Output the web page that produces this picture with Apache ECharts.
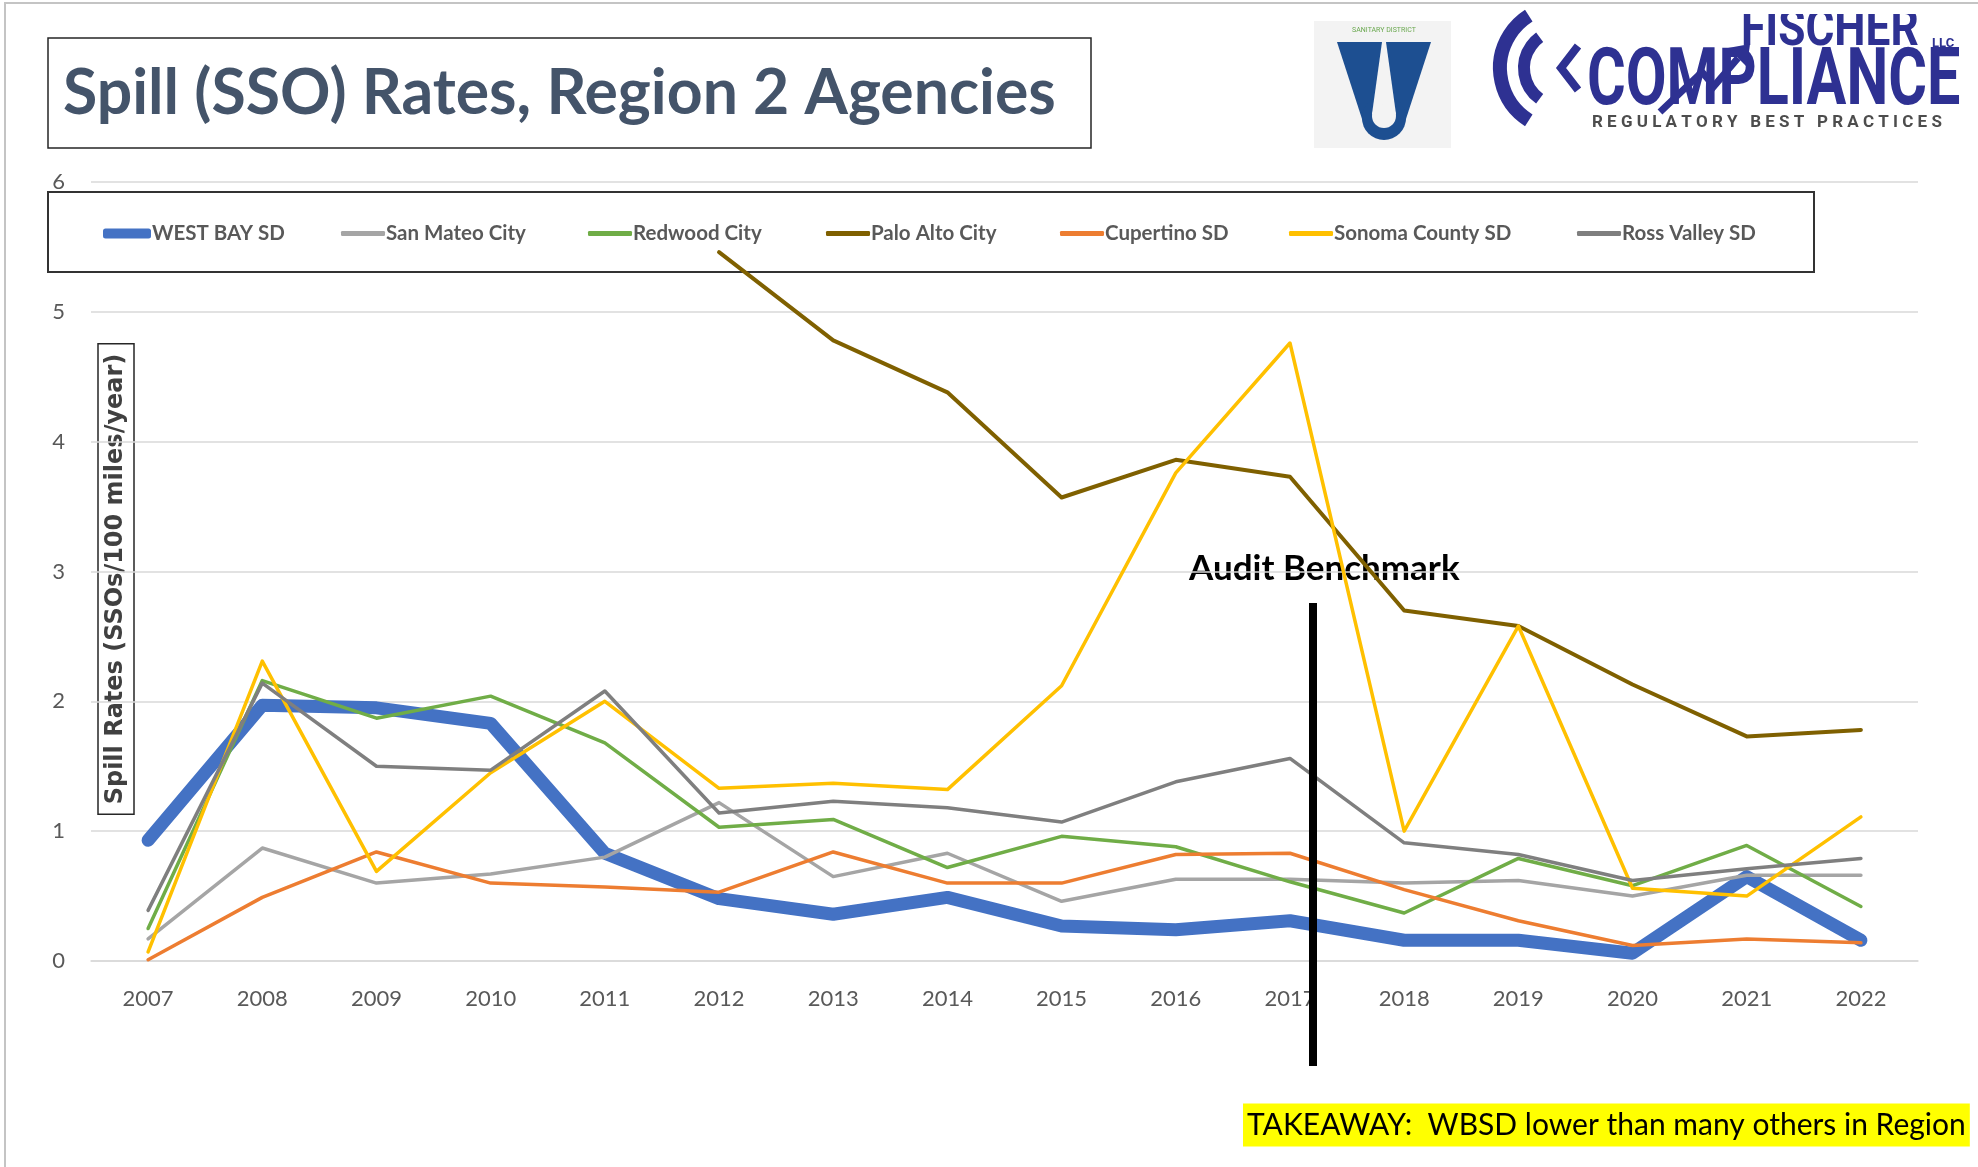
<!DOCTYPE html>
<html>
<head>
<meta charset="utf-8">
<script src="https://cdn.jsdelivr.net/npm/echarts@6/dist/echarts.min.js"></script>
<style>
  html, body { margin: 0; padding: 0; background: #fff; }
  #chart { width: 1978px; height: 1167px; }
</style>
</head>
<body>
<div id="chart"></div>
<script>
// spill rates, SSOs per 100 miles per year
const years = ['2007', '2008', '2009', '2010', '2011', '2012', '2013', '2014',
  '2015', '2016', '2017', '2018', '2019', '2020', '2021', '2022']
const yTicks = [0, 1, 2, 3, 4, 5, 6]

const westBay = [0.93, 1.97, 1.95, 1.83, 0.83, 0.48, 0.36, 0.49, 0.27, 0.24, 0.31, 0.16, 0.16, 0.06, 0.65, 0.16]
const sanMateo = [0.17, 0.87, 0.60, 0.67, 0.80, 1.22, 0.65, 0.83, 0.46, 0.63, 0.63, 0.60, 0.62, 0.50, 0.66, 0.66]
const redwood = [0.25, 2.16, 1.87, 2.04, 1.68, 1.03, 1.09, 0.72, 0.96, 0.88, 0.61, 0.37, 0.79, 0.58, 0.89, 0.42]
const paloAlto = [null, null, null, null, null, 5.46, 4.78, 4.38, 3.57, 3.86, 3.73, 2.70, 2.58, 2.13, 1.73, 1.78]
const cupertino = [0.01, 0.49, 0.84, 0.60, 0.57, 0.53, 0.84, 0.60, 0.60, 0.82, 0.83, 0.55, 0.31, 0.12, 0.17, 0.14]
const sonoma = [0.07, 2.31, 0.69, 1.45, 2.00, 1.33, 1.37, 1.32, 2.12, 3.76, 4.76, 1.00, 2.58, 0.56, 0.50, 1.11]
const rossValley = [0.39, 2.14, 1.50, 1.47, 2.08, 1.14, 1.23, 1.18, 1.07, 1.38, 1.56, 0.91, 0.82, 0.62, 0.71, 0.79]

const names = ['WEST BAY SD', 'San Mateo City', 'Redwood City', 'Palo Alto City', 'Cupertino SD', 'Sonoma County SD', 'Ross Valley SD']
const values = [westBay, sanMateo, redwood, paloAlto, cupertino, sonoma, rossValley]
const colors = ['#4472C4', '#A5A5A5', '#70AD47', '#7F6000', '#ED7D31', '#FFC000', '#7F7F7F']
const widths = [13, 3.5, 3.5, 4, 3.5, 3.5, 3.5]
const legendLeft = [103, 341, 588, 826, 1060, 1289, 1577]

const calibri = 'Lato, "Open Sans", sans-serif'
const navy = '#2E3192'

const chart = echarts.init(document.getElementById('chart'))

const series = names.map((n, i) => ({
  name: n,
  type: 'line',
  data: values[i],
  color: colors[i],
  showSymbol: false,
  symbol: 'none',
  lineStyle: { width: widths[i], color: colors[i], cap: 'round', join: 'round' },
  itemStyle: { color: colors[i] }
}))

const legends = names.map((n, i) => ({
  data: [n],
  left: legendLeft[i],
  top: 223,
  padding: 0,
  icon: 'roundRect',
  itemWidth: i === 0 ? 48 : 44,
  itemHeight: i === 0 ? 10 : 5,
  itemStyle: { borderWidth: 0 },
  textStyle: { color: '#595959', fontSize: 20.5, fontWeight: 'bold', fontFamily: calibri, padding: [0, 0, 0, -4] }
}))

const graphics = [
  // slide frame
  { type: 'rect', z: 100, shape: { x: 5, y: 3, width: 2100, height: 2100 }, style: { fill: 'none', stroke: '#C4C4C4', lineWidth: 2 } },
  // title
  { type: 'rect', shape: { x: 48, y: 38, width: 1043, height: 110 }, style: { fill: 'none', stroke: '#262626', lineWidth: 1.5 } },
  { type: 'text', x: 63, y: 94, style: { text: 'Spill (SSO) Rates, Region 2 Agencies', fontSize: 62.5, fontWeight: 'bold', fontFamily: calibri, fill: '#44546A', textVerticalAlign: 'middle', verticalAlign: 'middle' } },
  // legend box
  { type: 'rect', shape: { x: 48, y: 192, width: 1766, height: 80 }, style: { fill: 'none', stroke: '#333333', lineWidth: 2 } },
  // y axis name
  { type: 'text', x: 116, y: 579, rotation: Math.PI / 2,
    style: { text: 'Spill Rates (SSOs/100 miles/year)', fontSize: 24, fontWeight: 'bold', fontFamily: '"DejaVu Sans", sans-serif', fill: '#404040',
      textAlign: 'center', align: 'center', textVerticalAlign: 'middle', verticalAlign: 'middle',
      borderColor: '#262626', borderWidth: 1.5, padding: [6, 10] } },
  // audit benchmark
  { type: 'rect', z: 50, shape: { x: 1309, y: 603, width: 8, height: 463 }, style: { fill: '#000' } },
  { type: 'text', x: 1189, y: 569, style: { text: 'Audit Benchmark', fontSize: 35, fontWeight: 'bold', fontFamily: calibri, fill: '#000', textVerticalAlign: 'middle', verticalAlign: 'middle' } },
  // takeaway
  { type: 'text', x: 1243, y: 1125, style: { text: 'TAKEAWAY:  WBSD lower than many others in Region', fontSize: 30, fontFamily: calibri, fill: '#000',
    backgroundColor: '#FFFF00', padding: [7, 4, 6, 4], textVerticalAlign: 'middle', verticalAlign: 'middle' } },

  // sanitary district logo
  { type: 'rect', shape: { x: 1314, y: 21, width: 137, height: 127 }, style: { fill: '#F3F3F3' } },
  { type: 'text', x: 1384, y: 30, style: { text: 'SANITARY DISTRICT', fontSize: 7, fontFamily: 'Roboto, sans-serif', fill: '#6AA84F', textAlign: 'center', align: 'center', textVerticalAlign: 'middle', verticalAlign: 'middle' } },
  { type: 'polygon', shape: { points: [[1337, 42], [1431, 42], [1405, 122], [1363, 122]] }, style: { fill: '#1D4F91' } },
  { type: 'circle', shape: { cx: 1384, cy: 118, r: 22 }, style: { fill: '#1D4F91' } },
  { type: 'polygon', shape: { points: [[1382, 42], [1386, 42], [1396, 114], [1372, 114]] }, style: { fill: '#F3F3F3' } },
  { type: 'circle', shape: { cx: 1384, cy: 116, r: 12 }, style: { fill: '#F3F3F3' } },

  // fischer compliance logo
  { type: 'text', x: 1741, y: 58, scaleX: 0.85, style: { text: 'FISCHER', fontSize: 52, fontWeight: 'bold', fontFamily: 'Roboto, sans-serif', fill: navy, textVerticalAlign: 'bottom', verticalAlign: 'bottom' } },
  { type: 'rect', z: 10, shape: { x: 1700, y: 0, width: 278, height: 14 }, style: { fill: '#fff' } },
  { type: 'text', x: 1932, y: 44, style: { text: 'LLC', fontSize: 13, fontWeight: 'bold', fontFamily: 'Roboto, sans-serif', fill: navy, textVerticalAlign: 'middle', verticalAlign: 'middle' } },
  { type: 'text', x: 1587, y: 124, scaleX: 0.75, style: { text: 'COMPLIANCE', fontSize: 79, fontWeight: 'bold', fontFamily: 'Roboto, sans-serif', fill: navy, textVerticalAlign: 'bottom', verticalAlign: 'bottom' } },
  { type: 'polyline', z: 5, shape: { points: [[1660, 112], [1702, 72], [1714, 86], [1738, 58]] }, style: { stroke: navy, lineWidth: 7, fill: 'none' } },
  { type: 'polygon', z: 5, shape: { points: [[1728, 48], [1750, 44], [1747, 67]] }, style: { fill: navy } },
  { type: 'text', x: 1592, y: 123, style: { text: 'R E G U L A T O R Y   B E S T   P R A C T I C E S', fontSize: 17, fontWeight: 'bold', fontFamily: 'Roboto, sans-serif', fill: '#4D4D4D', textVerticalAlign: 'middle', verticalAlign: 'middle' } },
  { type: 'arc', shape: { cx: 1562, cy: 68, r: 62, startAngle: Math.PI * 0.68, endAngle: Math.PI * 1.32 }, style: { stroke: navy, lineWidth: 14, fill: 'none' } },
  { type: 'arc', shape: { cx: 1562, cy: 68, r: 38, startAngle: Math.PI * 0.7, endAngle: Math.PI * 1.3 }, style: { stroke: navy, lineWidth: 12, fill: 'none' } },
  { type: 'polyline', shape: { points: [[1578, 46], [1561, 68], [1578, 90]] }, style: { stroke: navy, lineWidth: 8, fill: 'none' } }
]

const option = {
  animation: false,
  backgroundColor: '#fff',
  grid: { left: 91, right: 60, top: 182, bottom: 206 },
  legend: legends,
  xAxis: {
    type: 'category',
    data: years,
    boundaryGap: true,
    axisLine: { lineStyle: { color: '#D9D9D9', width: 1.5 } },
    axisTick: { show: false },
    axisLabel: { color: '#595959', fontSize: 22, fontFamily: calibri, margin: 27 }
  },
  yAxis: {
    type: 'value',
    min: yTicks[0],
    max: yTicks[yTicks.length - 1],
    interval: 1,
    axisLine: { show: false },
    axisTick: { show: false },
    splitLine: { lineStyle: { color: '#D9D9D9', width: 1.5 } },
    axisLabel: { color: '#595959', fontSize: 22, fontFamily: calibri, margin: 26 }
  },
  series: series,
  graphic: graphics
}

chart.setOption(option)
</script>
</body>
</html>
